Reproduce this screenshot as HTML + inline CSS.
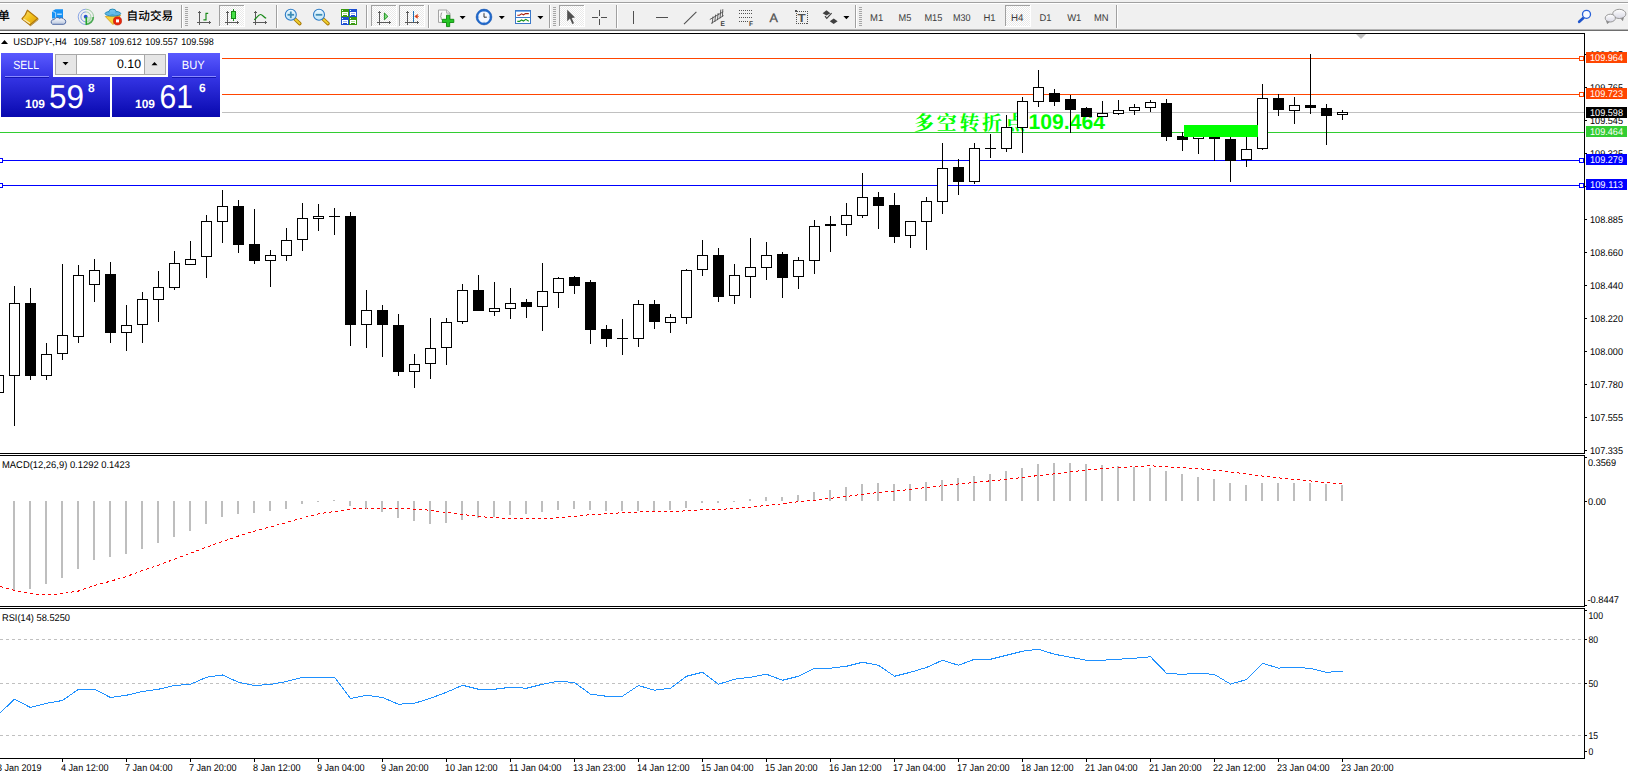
<!DOCTYPE html>
<html lang="zh"><head><meta charset="utf-8"><title>USDJPY-,H4</title>
<style>
html,body{margin:0;padding:0;background:#fff}
body{width:1628px;height:777px;overflow:hidden}
svg{display:block;position:absolute;left:0;top:0}
text{font-family:"Liberation Sans","Noto Sans CJK SC",sans-serif;white-space:pre;text-rendering:geometricPrecision}
.c{shape-rendering:crispEdges}
</style></head><body>
<svg width="1628" height="777" viewBox="0 0 1628 777">
<g class="c">
<rect x="0" y="0" width="1628" height="777" fill="#fff" />
<rect x="0" y="33" width="1585" height="1" fill="#000" />
<rect x="0" y="453" width="1585" height="1" fill="#000" />
<rect x="0" y="455" width="1585" height="1" fill="#000" />
<rect x="0" y="606" width="1585" height="1" fill="#000" />
<rect x="0" y="608" width="1585" height="1" fill="#000" />
<rect x="0" y="758" width="1585" height="1" fill="#000" />
<rect x="1584" y="33" width="1" height="421" fill="#000" />
<rect x="1584" y="455" width="1" height="152" fill="#000" />
<rect x="1584" y="608" width="1" height="151" fill="#000" />
<polygon points="1356,34 1366,34 1361,39" fill="#c0c0c0" shape-rendering="auto"/>
</g>
<g class="c">
<rect x="1585" y="54" width="2" height="1" fill="#000" />
<rect x="1585" y="87" width="2" height="1" fill="#000" />
<rect x="1585" y="120" width="2" height="1" fill="#000" />
<rect x="1585" y="153" width="2" height="1" fill="#000" />
<rect x="1585" y="186" width="2" height="1" fill="#000" />
<rect x="1585" y="219" width="2" height="1" fill="#000" />
<rect x="1585" y="252" width="2" height="1" fill="#000" />
<rect x="1585" y="285" width="2" height="1" fill="#000" />
<rect x="1585" y="318" width="2" height="1" fill="#000" />
<rect x="1585" y="351" width="2" height="1" fill="#000" />
<rect x="1585" y="384" width="2" height="1" fill="#000" />
<rect x="1585" y="417" width="2" height="1" fill="#000" />
<rect x="1585" y="450" width="2" height="1" fill="#000" />
<rect x="1585" y="457" width="2" height="1" fill="#000" />
<rect x="1585" y="501" width="2" height="1" fill="#000" />
<rect x="1585" y="605" width="2" height="1" fill="#000" />
<rect x="1585" y="610" width="2" height="1" fill="#000" />
<rect x="1585" y="639" width="2" height="1" fill="#000" />
<rect x="1585" y="683" width="2" height="1" fill="#000" />
<rect x="1585" y="735" width="2" height="1" fill="#000" />
<rect x="1585" y="751" width="2" height="1" fill="#000" />
</g>
<text x="1590" y="58" font-size="9.8" fill="#000" textLength="33" lengthAdjust="spacingAndGlyphs" >109.985</text>
<text x="1590" y="91" font-size="9.8" fill="#000" textLength="33" lengthAdjust="spacingAndGlyphs" >109.765</text>
<text x="1590" y="124" font-size="9.8" fill="#000" textLength="33" lengthAdjust="spacingAndGlyphs" >109.545</text>
<text x="1590" y="157" font-size="9.8" fill="#000" textLength="33" lengthAdjust="spacingAndGlyphs" >109.325</text>
<text x="1590" y="190" font-size="9.8" fill="#000" textLength="33" lengthAdjust="spacingAndGlyphs" >109.105</text>
<text x="1590" y="223" font-size="9.8" fill="#000" textLength="33" lengthAdjust="spacingAndGlyphs" >108.885</text>
<text x="1590" y="256" font-size="9.8" fill="#000" textLength="33" lengthAdjust="spacingAndGlyphs" >108.660</text>
<text x="1590" y="289" font-size="9.8" fill="#000" textLength="33" lengthAdjust="spacingAndGlyphs" >108.440</text>
<text x="1590" y="322" font-size="9.8" fill="#000" textLength="33" lengthAdjust="spacingAndGlyphs" >108.220</text>
<text x="1590" y="355" font-size="9.8" fill="#000" textLength="33" lengthAdjust="spacingAndGlyphs" >108.000</text>
<text x="1590" y="388" font-size="9.8" fill="#000" textLength="33" lengthAdjust="spacingAndGlyphs" >107.780</text>
<text x="1590" y="421" font-size="9.8" fill="#000" textLength="33" lengthAdjust="spacingAndGlyphs" >107.555</text>
<text x="1590" y="454" font-size="9.8" fill="#000" textLength="33" lengthAdjust="spacingAndGlyphs" >107.335</text>
<text x="1588" y="466" font-size="9.8" fill="#000" textLength="28" lengthAdjust="spacingAndGlyphs" >0.3569</text>
<text x="1588" y="505" font-size="9.8" fill="#000" textLength="18" lengthAdjust="spacingAndGlyphs" >0.00</text>
<text x="1587.5" y="603" font-size="9.8" fill="#000" textLength="31.5" lengthAdjust="spacingAndGlyphs" >-0.8447</text>
<text x="1588.5" y="619" font-size="9.8" fill="#000" textLength="14.5" lengthAdjust="spacingAndGlyphs" >100</text>
<text x="1588.5" y="643" font-size="9.8" fill="#000" textLength="9.6" lengthAdjust="spacingAndGlyphs" >80</text>
<text x="1588.5" y="687" font-size="9.8" fill="#000" textLength="9.6" lengthAdjust="spacingAndGlyphs" >50</text>
<text x="1588.5" y="739" font-size="9.8" fill="#000" textLength="9.6" lengthAdjust="spacingAndGlyphs" >15</text>
<text x="1588.5" y="755" font-size="9.8" fill="#000" textLength="4.8" lengthAdjust="spacingAndGlyphs" >0</text>
<g class="c">
<rect x="0" y="112" width="1584" height="1" fill="#c0c0c0" />
<rect x="0" y="58" width="1584" height="1" fill="#ff4500" />
<rect x="0" y="94" width="1584" height="1" fill="#ff4500" />
<rect x="0" y="132" width="1584" height="1" fill="#32cd32" />
<rect x="0" y="160" width="1584" height="1" fill="#0000ff" />
<rect x="0" y="185" width="1584" height="1" fill="#0000ff" />
<rect x="1579" y="56" width="5" height="5" fill="#ff4500" />
<rect x="1580" y="57" width="3" height="3" fill="#fff" />
<rect x="1579" y="92" width="5" height="5" fill="#ff4500" />
<rect x="1580" y="93" width="3" height="3" fill="#fff" />
<rect x="1579" y="158" width="5" height="5" fill="#0000ff" />
<rect x="1580" y="159" width="3" height="3" fill="#fff" />
<rect x="1579" y="183" width="5" height="5" fill="#0000ff" />
<rect x="1580" y="184" width="3" height="3" fill="#fff" />
<rect x="-2" y="158" width="5" height="5" fill="#0000ff" />
<rect x="-1" y="159" width="3" height="3" fill="#fff" />
<rect x="-2" y="183" width="5" height="5" fill="#0000ff" />
<rect x="-1" y="184" width="3" height="3" fill="#fff" />
</g>
<text x="914" y="129.5" fill="#00ff00" font-weight="700" font-size="20" style='font-family:"Noto Serif CJK SC","Liberation Serif",serif;letter-spacing:2.7px'>多空转折点</text>
<text x="1028.5" y="129" fill="#00ff00" font-weight="bold" font-size="21.2" style='font-family:"Liberation Sans",sans-serif' textLength="76.5" lengthAdjust="spacingAndGlyphs">109.464</text>
<g class="c">
<rect x="-7" y="375" width="11" height="18" fill="#000" />
<rect x="-6" y="376" width="9" height="16" fill="#fff" />
<rect x="14" y="286" width="1" height="140" fill="#000" />
<rect x="9" y="303" width="11" height="73" fill="#000" />
<rect x="10" y="304" width="9" height="71" fill="#fff" />
<rect x="30" y="288" width="1" height="92" fill="#000" />
<rect x="25" y="303" width="11" height="73" fill="#000" />
<rect x="46" y="343" width="1" height="37" fill="#000" />
<rect x="41" y="354" width="11" height="22" fill="#000" />
<rect x="42" y="355" width="9" height="20" fill="#fff" />
<rect x="62" y="264" width="1" height="96" fill="#000" />
<rect x="57" y="335" width="11" height="19" fill="#000" />
<rect x="58" y="336" width="9" height="17" fill="#fff" />
<rect x="78" y="265" width="1" height="78" fill="#000" />
<rect x="73" y="275" width="11" height="62" fill="#000" />
<rect x="74" y="276" width="9" height="60" fill="#fff" />
<rect x="94" y="259" width="1" height="43" fill="#000" />
<rect x="89" y="270" width="11" height="15" fill="#000" />
<rect x="90" y="271" width="9" height="13" fill="#fff" />
<rect x="110" y="262" width="1" height="81" fill="#000" />
<rect x="105" y="274" width="11" height="59" fill="#000" />
<rect x="126" y="305" width="1" height="46" fill="#000" />
<rect x="121" y="325" width="11" height="8" fill="#000" />
<rect x="122" y="326" width="9" height="6" fill="#fff" />
<rect x="142" y="292" width="1" height="51" fill="#000" />
<rect x="137" y="299" width="11" height="26" fill="#000" />
<rect x="138" y="300" width="9" height="24" fill="#fff" />
<rect x="158" y="271" width="1" height="51" fill="#000" />
<rect x="153" y="287" width="11" height="13" fill="#000" />
<rect x="154" y="288" width="9" height="11" fill="#fff" />
<rect x="174" y="251" width="1" height="39" fill="#000" />
<rect x="169" y="263" width="11" height="25" fill="#000" />
<rect x="170" y="264" width="9" height="23" fill="#fff" />
<rect x="190" y="241" width="1" height="24" fill="#000" />
<rect x="185" y="259" width="11" height="6" fill="#000" />
<rect x="186" y="260" width="9" height="4" fill="#fff" />
<rect x="206" y="215" width="1" height="63" fill="#000" />
<rect x="201" y="221" width="11" height="36" fill="#000" />
<rect x="202" y="222" width="9" height="34" fill="#fff" />
<rect x="222" y="190" width="1" height="53" fill="#000" />
<rect x="217" y="206" width="11" height="16" fill="#000" />
<rect x="218" y="207" width="9" height="14" fill="#fff" />
<rect x="238" y="200" width="1" height="53" fill="#000" />
<rect x="233" y="206" width="11" height="39" fill="#000" />
<rect x="254" y="209" width="1" height="55" fill="#000" />
<rect x="249" y="244" width="11" height="17" fill="#000" />
<rect x="270" y="250" width="1" height="37" fill="#000" />
<rect x="265" y="255" width="11" height="6" fill="#000" />
<rect x="266" y="256" width="9" height="4" fill="#fff" />
<rect x="286" y="228" width="1" height="33" fill="#000" />
<rect x="281" y="240" width="11" height="16" fill="#000" />
<rect x="282" y="241" width="9" height="14" fill="#fff" />
<rect x="302" y="203" width="1" height="48" fill="#000" />
<rect x="297" y="218" width="11" height="22" fill="#000" />
<rect x="298" y="219" width="9" height="20" fill="#fff" />
<rect x="318" y="204" width="1" height="27" fill="#000" />
<rect x="313" y="216" width="11" height="3" fill="#000" />
<rect x="314" y="217" width="9" height="1" fill="#fff" />
<rect x="334" y="208" width="1" height="27" fill="#000" />
<rect x="329" y="216" width="11" height="1" fill="#000" />
<rect x="350" y="212" width="1" height="134" fill="#000" />
<rect x="345" y="216" width="11" height="109" fill="#000" />
<rect x="366" y="290" width="1" height="58" fill="#000" />
<rect x="361" y="310" width="11" height="15" fill="#000" />
<rect x="362" y="311" width="9" height="13" fill="#fff" />
<rect x="382" y="305" width="1" height="52" fill="#000" />
<rect x="377" y="310" width="11" height="15" fill="#000" />
<rect x="398" y="314" width="1" height="62" fill="#000" />
<rect x="393" y="325" width="11" height="47" fill="#000" />
<rect x="414" y="354" width="1" height="34" fill="#000" />
<rect x="409" y="364" width="11" height="8" fill="#000" />
<rect x="410" y="365" width="9" height="6" fill="#fff" />
<rect x="430" y="318" width="1" height="61" fill="#000" />
<rect x="425" y="348" width="11" height="16" fill="#000" />
<rect x="426" y="349" width="9" height="14" fill="#fff" />
<rect x="446" y="318" width="1" height="47" fill="#000" />
<rect x="441" y="322" width="11" height="26" fill="#000" />
<rect x="442" y="323" width="9" height="24" fill="#fff" />
<rect x="462" y="284" width="1" height="40" fill="#000" />
<rect x="457" y="290" width="11" height="32" fill="#000" />
<rect x="458" y="291" width="9" height="30" fill="#fff" />
<rect x="478" y="275" width="1" height="36" fill="#000" />
<rect x="473" y="290" width="11" height="21" fill="#000" />
<rect x="494" y="282" width="1" height="34" fill="#000" />
<rect x="489" y="308" width="11" height="4" fill="#000" />
<rect x="490" y="309" width="9" height="2" fill="#fff" />
<rect x="510" y="288" width="1" height="31" fill="#000" />
<rect x="505" y="303" width="11" height="6" fill="#000" />
<rect x="506" y="304" width="9" height="4" fill="#fff" />
<rect x="526" y="299" width="1" height="19" fill="#000" />
<rect x="521" y="302" width="11" height="5" fill="#000" />
<rect x="542" y="263" width="1" height="68" fill="#000" />
<rect x="537" y="291" width="11" height="16" fill="#000" />
<rect x="538" y="292" width="9" height="14" fill="#fff" />
<rect x="558" y="277" width="1" height="31" fill="#000" />
<rect x="553" y="278" width="11" height="15" fill="#000" />
<rect x="554" y="279" width="9" height="13" fill="#fff" />
<rect x="574" y="276" width="1" height="18" fill="#000" />
<rect x="569" y="277" width="11" height="9" fill="#000" />
<rect x="590" y="280" width="1" height="64" fill="#000" />
<rect x="585" y="282" width="11" height="48" fill="#000" />
<rect x="606" y="325" width="1" height="22" fill="#000" />
<rect x="601" y="329" width="11" height="10" fill="#000" />
<rect x="622" y="319" width="1" height="36" fill="#000" />
<rect x="617" y="338" width="11" height="1" fill="#000" />
<rect x="638" y="300" width="1" height="47" fill="#000" />
<rect x="633" y="304" width="11" height="35" fill="#000" />
<rect x="634" y="305" width="9" height="33" fill="#fff" />
<rect x="654" y="300" width="1" height="29" fill="#000" />
<rect x="649" y="304" width="11" height="18" fill="#000" />
<rect x="670" y="314" width="1" height="19" fill="#000" />
<rect x="665" y="317" width="11" height="6" fill="#000" />
<rect x="666" y="318" width="9" height="4" fill="#fff" />
<rect x="686" y="269" width="1" height="55" fill="#000" />
<rect x="681" y="270" width="11" height="48" fill="#000" />
<rect x="682" y="271" width="9" height="46" fill="#fff" />
<rect x="702" y="240" width="1" height="36" fill="#000" />
<rect x="697" y="255" width="11" height="15" fill="#000" />
<rect x="698" y="256" width="9" height="13" fill="#fff" />
<rect x="718" y="248" width="1" height="54" fill="#000" />
<rect x="713" y="255" width="11" height="42" fill="#000" />
<rect x="734" y="264" width="1" height="40" fill="#000" />
<rect x="729" y="275" width="11" height="21" fill="#000" />
<rect x="730" y="276" width="9" height="19" fill="#fff" />
<rect x="750" y="238" width="1" height="60" fill="#000" />
<rect x="745" y="267" width="11" height="10" fill="#000" />
<rect x="746" y="268" width="9" height="8" fill="#fff" />
<rect x="766" y="242" width="1" height="38" fill="#000" />
<rect x="761" y="255" width="11" height="13" fill="#000" />
<rect x="762" y="256" width="9" height="11" fill="#fff" />
<rect x="782" y="252" width="1" height="46" fill="#000" />
<rect x="777" y="254" width="11" height="24" fill="#000" />
<rect x="798" y="257" width="1" height="32" fill="#000" />
<rect x="793" y="260" width="11" height="17" fill="#000" />
<rect x="794" y="261" width="9" height="15" fill="#fff" />
<rect x="814" y="220" width="1" height="54" fill="#000" />
<rect x="809" y="226" width="11" height="35" fill="#000" />
<rect x="810" y="227" width="9" height="33" fill="#fff" />
<rect x="830" y="216" width="1" height="36" fill="#000" />
<rect x="825" y="224" width="11" height="2" fill="#000" />
<rect x="846" y="203" width="1" height="33" fill="#000" />
<rect x="841" y="215" width="11" height="10" fill="#000" />
<rect x="842" y="216" width="9" height="8" fill="#fff" />
<rect x="862" y="173" width="1" height="45" fill="#000" />
<rect x="857" y="197" width="11" height="19" fill="#000" />
<rect x="858" y="198" width="9" height="17" fill="#fff" />
<rect x="878" y="192" width="1" height="37" fill="#000" />
<rect x="873" y="197" width="11" height="9" fill="#000" />
<rect x="894" y="193" width="1" height="50" fill="#000" />
<rect x="889" y="205" width="11" height="32" fill="#000" />
<rect x="910" y="221" width="1" height="27" fill="#000" />
<rect x="905" y="221" width="11" height="15" fill="#000" />
<rect x="906" y="222" width="9" height="13" fill="#fff" />
<rect x="926" y="197" width="1" height="53" fill="#000" />
<rect x="921" y="201" width="11" height="21" fill="#000" />
<rect x="922" y="202" width="9" height="19" fill="#fff" />
<rect x="942" y="143" width="1" height="71" fill="#000" />
<rect x="937" y="168" width="11" height="34" fill="#000" />
<rect x="938" y="169" width="9" height="32" fill="#fff" />
<rect x="958" y="159" width="1" height="36" fill="#000" />
<rect x="953" y="167" width="11" height="15" fill="#000" />
<rect x="974" y="143" width="1" height="41" fill="#000" />
<rect x="969" y="148" width="11" height="34" fill="#000" />
<rect x="970" y="149" width="9" height="32" fill="#fff" />
<rect x="990" y="134" width="1" height="24" fill="#000" />
<rect x="985" y="148" width="11" height="1" fill="#000" />
<rect x="1006" y="115" width="1" height="37" fill="#000" />
<rect x="1001" y="127" width="11" height="22" fill="#000" />
<rect x="1002" y="128" width="9" height="20" fill="#fff" />
<rect x="1022" y="97" width="1" height="56" fill="#000" />
<rect x="1017" y="101" width="11" height="27" fill="#000" />
<rect x="1018" y="102" width="9" height="25" fill="#fff" />
<rect x="1038" y="70" width="1" height="37" fill="#000" />
<rect x="1033" y="87" width="11" height="15" fill="#000" />
<rect x="1034" y="88" width="9" height="13" fill="#fff" />
<rect x="1054" y="89" width="1" height="17" fill="#000" />
<rect x="1049" y="93" width="11" height="9" fill="#000" />
<rect x="1070" y="95" width="1" height="38" fill="#000" />
<rect x="1065" y="99" width="11" height="11" fill="#000" />
<rect x="1086" y="107" width="1" height="10" fill="#000" />
<rect x="1081" y="108" width="11" height="9" fill="#000" />
<rect x="1102" y="101" width="1" height="16" fill="#000" />
<rect x="1097" y="113" width="11" height="4" fill="#000" />
<rect x="1098" y="114" width="9" height="2" fill="#fff" />
<rect x="1118" y="100" width="1" height="15" fill="#000" />
<rect x="1113" y="110" width="11" height="4" fill="#000" />
<rect x="1114" y="111" width="9" height="2" fill="#fff" />
<rect x="1134" y="104" width="1" height="11" fill="#000" />
<rect x="1129" y="107" width="11" height="4" fill="#000" />
<rect x="1130" y="108" width="9" height="2" fill="#fff" />
<rect x="1150" y="100" width="1" height="12" fill="#000" />
<rect x="1145" y="102" width="11" height="6" fill="#000" />
<rect x="1146" y="103" width="9" height="4" fill="#fff" />
<rect x="1166" y="99" width="1" height="42" fill="#000" />
<rect x="1161" y="103" width="11" height="34" fill="#000" />
<rect x="1182" y="132" width="1" height="19" fill="#000" />
<rect x="1177" y="136" width="11" height="4" fill="#000" />
<rect x="1198" y="136" width="1" height="18" fill="#000" />
<rect x="1193" y="136" width="11" height="3" fill="#000" />
<rect x="1194" y="137" width="9" height="1" fill="#fff" />
<rect x="1214" y="136" width="1" height="25" fill="#000" />
<rect x="1209" y="136" width="11" height="3" fill="#000" />
<rect x="1230" y="137" width="1" height="45" fill="#000" />
<rect x="1225" y="139" width="11" height="22" fill="#000" />
<rect x="1246" y="137" width="1" height="30" fill="#000" />
<rect x="1241" y="149" width="11" height="11" fill="#000" />
<rect x="1242" y="150" width="9" height="9" fill="#fff" />
<rect x="1262" y="84" width="1" height="66" fill="#000" />
<rect x="1257" y="98" width="11" height="51" fill="#000" />
<rect x="1258" y="99" width="9" height="49" fill="#fff" />
<rect x="1278" y="94" width="1" height="22" fill="#000" />
<rect x="1273" y="98" width="11" height="12" fill="#000" />
<rect x="1294" y="97" width="1" height="27" fill="#000" />
<rect x="1289" y="105" width="11" height="6" fill="#000" />
<rect x="1290" y="106" width="9" height="4" fill="#fff" />
<rect x="1310" y="54" width="1" height="60" fill="#000" />
<rect x="1305" y="105" width="11" height="3" fill="#000" />
<rect x="1326" y="104" width="1" height="41" fill="#000" />
<rect x="1321" y="108" width="11" height="8" fill="#000" />
<rect x="1342" y="110" width="1" height="10" fill="#000" />
<rect x="1337" y="112" width="11" height="3" fill="#000" />
<rect x="1338" y="113" width="9" height="1" fill="#fff" />
<rect x="1184" y="125" width="74" height="12" fill="#00ff00" />
</g>
<g class="c">
<rect x="1586" y="52" width="41" height="11" fill="#ff4500" />
</g>
<text x="1590" y="61" font-size="9.8" fill="#fff" textLength="33" lengthAdjust="spacingAndGlyphs" >109.964</text>
<g class="c">
<rect x="1586" y="88" width="41" height="11" fill="#ff4500" />
</g>
<text x="1590" y="97" font-size="9.8" fill="#fff" textLength="33" lengthAdjust="spacingAndGlyphs" >109.723</text>
<g class="c">
<rect x="1586" y="126" width="41" height="11" fill="#32cd32" />
</g>
<text x="1590" y="135" font-size="9.8" fill="#fff" textLength="33" lengthAdjust="spacingAndGlyphs" >109.464</text>
<g class="c">
<rect x="1586" y="154" width="41" height="11" fill="#0000ff" />
</g>
<text x="1590" y="163" font-size="9.8" fill="#fff" textLength="33" lengthAdjust="spacingAndGlyphs" >109.279</text>
<g class="c">
<rect x="1586" y="179" width="41" height="11" fill="#0000ff" />
</g>
<text x="1590" y="188" font-size="9.8" fill="#fff" textLength="33" lengthAdjust="spacingAndGlyphs" >109.113</text>
<g class="c">
<rect x="1586" y="107" width="41" height="11" fill="#000" />
</g>
<text x="1590" y="116" font-size="9.8" fill="#fff" textLength="33" lengthAdjust="spacingAndGlyphs" >109.598</text>
<g class="c">
<rect x="13" y="501" width="2" height="89" fill="#bebebe" />
<rect x="29" y="501" width="2" height="88" fill="#bebebe" />
<rect x="45" y="501" width="2" height="83" fill="#bebebe" />
<rect x="61" y="501" width="2" height="77" fill="#bebebe" />
<rect x="77" y="501" width="2" height="68" fill="#bebebe" />
<rect x="93" y="501" width="2" height="59" fill="#bebebe" />
<rect x="109" y="501" width="2" height="56" fill="#bebebe" />
<rect x="125" y="501" width="2" height="53" fill="#bebebe" />
<rect x="141" y="501" width="2" height="48" fill="#bebebe" />
<rect x="157" y="501" width="2" height="42" fill="#bebebe" />
<rect x="173" y="501" width="2" height="36" fill="#bebebe" />
<rect x="189" y="501" width="2" height="30" fill="#bebebe" />
<rect x="205" y="501" width="2" height="23" fill="#bebebe" />
<rect x="221" y="501" width="2" height="16" fill="#bebebe" />
<rect x="237" y="501" width="2" height="13" fill="#bebebe" />
<rect x="253" y="501" width="2" height="12" fill="#bebebe" />
<rect x="269" y="501" width="2" height="10" fill="#bebebe" />
<rect x="285" y="501" width="2" height="8" fill="#bebebe" />
<rect x="301" y="501" width="2" height="3" fill="#bebebe" />
<rect x="317" y="501" width="2" height="1" fill="#bebebe" />
<rect x="333" y="500" width="2" height="1" fill="#bebebe" />
<rect x="349" y="501" width="2" height="5" fill="#bebebe" />
<rect x="365" y="501" width="2" height="8" fill="#bebebe" />
<rect x="381" y="501" width="2" height="11" fill="#bebebe" />
<rect x="397" y="501" width="2" height="17" fill="#bebebe" />
<rect x="413" y="501" width="2" height="20" fill="#bebebe" />
<rect x="429" y="501" width="2" height="23" fill="#bebebe" />
<rect x="445" y="501" width="2" height="22" fill="#bebebe" />
<rect x="461" y="501" width="2" height="19" fill="#bebebe" />
<rect x="477" y="501" width="2" height="17" fill="#bebebe" />
<rect x="493" y="501" width="2" height="16" fill="#bebebe" />
<rect x="509" y="501" width="2" height="14" fill="#bebebe" />
<rect x="525" y="501" width="2" height="13" fill="#bebebe" />
<rect x="541" y="501" width="2" height="11" fill="#bebebe" />
<rect x="557" y="501" width="2" height="9" fill="#bebebe" />
<rect x="573" y="501" width="2" height="8" fill="#bebebe" />
<rect x="589" y="501" width="2" height="9" fill="#bebebe" />
<rect x="605" y="501" width="2" height="10" fill="#bebebe" />
<rect x="621" y="501" width="2" height="10" fill="#bebebe" />
<rect x="637" y="501" width="2" height="10" fill="#bebebe" />
<rect x="653" y="501" width="2" height="10" fill="#bebebe" />
<rect x="669" y="501" width="2" height="9" fill="#bebebe" />
<rect x="685" y="501" width="2" height="7" fill="#bebebe" />
<rect x="701" y="501" width="2" height="2" fill="#bebebe" />
<rect x="717" y="501" width="2" height="2" fill="#bebebe" />
<rect x="733" y="501" width="2" height="1" fill="#bebebe" />
<rect x="749" y="499" width="2" height="2" fill="#bebebe" />
<rect x="765" y="497" width="2" height="4" fill="#bebebe" />
<rect x="781" y="497" width="2" height="4" fill="#bebebe" />
<rect x="797" y="495" width="2" height="6" fill="#bebebe" />
<rect x="813" y="492" width="2" height="9" fill="#bebebe" />
<rect x="829" y="490" width="2" height="11" fill="#bebebe" />
<rect x="845" y="487" width="2" height="14" fill="#bebebe" />
<rect x="861" y="484" width="2" height="17" fill="#bebebe" />
<rect x="877" y="483" width="2" height="18" fill="#bebebe" />
<rect x="893" y="484" width="2" height="17" fill="#bebebe" />
<rect x="909" y="484" width="2" height="17" fill="#bebebe" />
<rect x="925" y="482" width="2" height="19" fill="#bebebe" />
<rect x="941" y="480" width="2" height="21" fill="#bebebe" />
<rect x="957" y="478" width="2" height="23" fill="#bebebe" />
<rect x="973" y="476" width="2" height="25" fill="#bebebe" />
<rect x="989" y="474" width="2" height="27" fill="#bebebe" />
<rect x="1005" y="471" width="2" height="30" fill="#bebebe" />
<rect x="1021" y="468" width="2" height="33" fill="#bebebe" />
<rect x="1037" y="464" width="2" height="37" fill="#bebebe" />
<rect x="1053" y="463" width="2" height="38" fill="#bebebe" />
<rect x="1069" y="463" width="2" height="38" fill="#bebebe" />
<rect x="1085" y="464" width="2" height="37" fill="#bebebe" />
<rect x="1101" y="465" width="2" height="36" fill="#bebebe" />
<rect x="1117" y="466" width="2" height="35" fill="#bebebe" />
<rect x="1133" y="467" width="2" height="34" fill="#bebebe" />
<rect x="1149" y="468" width="2" height="33" fill="#bebebe" />
<rect x="1165" y="471" width="2" height="30" fill="#bebebe" />
<rect x="1181" y="474" width="2" height="27" fill="#bebebe" />
<rect x="1197" y="477" width="2" height="24" fill="#bebebe" />
<rect x="1213" y="479" width="2" height="22" fill="#bebebe" />
<rect x="1229" y="483" width="2" height="18" fill="#bebebe" />
<rect x="1245" y="485" width="2" height="16" fill="#bebebe" />
<rect x="1261" y="483" width="2" height="18" fill="#bebebe" />
<rect x="1277" y="483" width="2" height="18" fill="#bebebe" />
<rect x="1293" y="483" width="2" height="18" fill="#bebebe" />
<rect x="1309" y="483" width="2" height="18" fill="#bebebe" />
<rect x="1325" y="484" width="2" height="17" fill="#bebebe" />
<rect x="1341" y="485" width="2" height="16" fill="#bebebe" />
</g>
<polyline points="0.5,586.5 14.5,590.5 30.5,593.5 46.5,595.0 62.5,593.5 78.5,591.0 94.5,585.5 110.5,581.2 126.5,576.5 142.5,570.5 158.5,565.2 174.5,559.1 190.5,553.2 206.5,547.1 222.5,541.5 238.5,536.0 254.5,531.1 270.5,526.9 286.5,522.5 302.5,517.8 318.5,513.9 334.5,511.5 350.5,509.0 366.5,508.0 382.5,508.0 398.5,508.3 414.5,509.1 430.5,510.3 446.5,512.5 462.5,514.5 478.5,516.5 494.5,517.7 510.5,518.5 526.5,518.5 542.5,518.5 558.5,517.9 574.5,516.2 590.5,514.7 606.5,513.7 622.5,512.7 638.5,512.0 654.5,511.8 670.5,511.8 686.5,510.8 702.5,509.8 718.5,509.5 734.5,508.5 750.5,507.1 766.5,505.5 782.5,503.7 798.5,501.7 814.5,500.2 830.5,498.3 846.5,496.5 862.5,494.3 878.5,492.5 894.5,491.1 910.5,489.5 926.5,487.5 942.5,485.7 958.5,484.0 974.5,482.5 990.5,480.8 1006.5,479.5 1022.5,477.5 1038.5,475.5 1054.5,473.9 1070.5,472.0 1086.5,470.0 1102.5,468.8 1118.5,467.5 1134.5,466.8 1150.5,465.8 1166.5,466.7 1182.5,467.8 1198.5,468.7 1214.5,470.2 1230.5,471.9 1246.5,474.0 1262.5,476.1 1278.5,477.8 1294.5,479.5 1310.5,481.0 1326.5,482.5 1342.5,483.7" fill="none" stroke="#ff0000" stroke-width="1" stroke-dasharray="3 3" shape-rendering="crispEdges"/>
<text x="2" y="468" font-size="9.8" fill="#000" textLength="128" lengthAdjust="spacingAndGlyphs" >MACD(12,26,9) 0.1292 0.1423</text>
<line x1="0" y1="639.5" x2="1584" y2="639.5" stroke="#c0c0c0" stroke-width="1" stroke-dasharray="3 3" class="c"/>
<line x1="0" y1="683.5" x2="1584" y2="683.5" stroke="#c0c0c0" stroke-width="1" stroke-dasharray="3 3" class="c"/>
<line x1="0" y1="735.5" x2="1584" y2="735.5" stroke="#c0c0c0" stroke-width="1" stroke-dasharray="3 3" class="c"/>
<polyline points="0.5,712.5 14.5,699.25 30.5,707.5 46.5,703.25 62.5,700.5 78.5,689.25 94.5,689.25 110.5,697.5 126.5,695.25 142.5,691.5 158.5,689.25 174.5,685.5 190.5,684.25 206.5,677.25 222.5,675 238.5,682.25 254.5,685.5 270.5,684.5 286.5,681.5 302.5,677.25 318.5,677.25 334.5,677.25 350.5,698.5 366.5,695.25 382.5,697.5 398.5,704.25 414.5,703.25 430.5,698.25 446.5,692.25 462.5,685.25 478.5,689.25 494.5,689.25 510.5,687.25 526.5,688.25 542.5,684.25 558.5,681.25 574.5,682.5 590.5,694.25 606.5,696.25 622.5,696.25 638.5,685.5 654.5,690.25 670.5,688.25 686.5,676.25 702.5,672.25 718.5,684.25 734.5,679.25 750.5,677.25 766.5,674.25 782.5,680.25 798.5,676.25 814.5,668.25 830.5,668.25 846.5,666.25 862.5,662.25 878.5,665.25 894.5,676.25 910.5,672.25 926.5,667.5 942.5,660.25 958.5,665.25 974.5,659.25 990.5,659.25 1006.5,655.25 1022.5,651.25 1038.5,649.25 1054.5,654.25 1070.5,657.25 1086.5,660.25 1102.5,660.25 1118.5,659.25 1134.5,658.25 1150.5,656.75 1166.5,673.25 1182.5,674.4 1198.5,673.1 1214.5,674.5 1230.5,684.1 1246.5,679.6 1262.5,663.3 1278.5,668.1 1294.5,667.2 1310.5,668.4 1326.5,672.3 1342.5,671.2" fill="none" stroke="#1e90ff" stroke-width="1" shape-rendering="crispEdges"/>
<text x="2" y="621" font-size="9.8" fill="#000" textLength="68" lengthAdjust="spacingAndGlyphs" >RSI(14) 58.5250</text>
<g class="c">
<rect x="62" y="758" width="1" height="4" fill="#000" />
<rect x="126" y="758" width="1" height="4" fill="#000" />
<rect x="190" y="758" width="1" height="4" fill="#000" />
<rect x="254" y="758" width="1" height="4" fill="#000" />
<rect x="318" y="758" width="1" height="4" fill="#000" />
<rect x="382" y="758" width="1" height="4" fill="#000" />
<rect x="446" y="758" width="1" height="4" fill="#000" />
<rect x="510" y="758" width="1" height="4" fill="#000" />
<rect x="574" y="758" width="1" height="4" fill="#000" />
<rect x="638" y="758" width="1" height="4" fill="#000" />
<rect x="702" y="758" width="1" height="4" fill="#000" />
<rect x="766" y="758" width="1" height="4" fill="#000" />
<rect x="830" y="758" width="1" height="4" fill="#000" />
<rect x="894" y="758" width="1" height="4" fill="#000" />
<rect x="958" y="758" width="1" height="4" fill="#000" />
<rect x="1022" y="758" width="1" height="4" fill="#000" />
<rect x="1086" y="758" width="1" height="4" fill="#000" />
<rect x="1150" y="758" width="1" height="4" fill="#000" />
<rect x="1214" y="758" width="1" height="4" fill="#000" />
<rect x="1278" y="758" width="1" height="4" fill="#000" />
<rect x="1342" y="758" width="1" height="4" fill="#000" />
</g>
<text x="-3" y="771" font-size="9.8" fill="#000" textLength="44.5" lengthAdjust="spacingAndGlyphs" >3 Jan 2019</text>
<text x="61" y="771" font-size="9.8" fill="#000" textLength="47.5" lengthAdjust="spacingAndGlyphs" >4 Jan 12:00</text>
<text x="125" y="771" font-size="9.8" fill="#000" textLength="47.5" lengthAdjust="spacingAndGlyphs" >7 Jan 04:00</text>
<text x="189" y="771" font-size="9.8" fill="#000" textLength="47.5" lengthAdjust="spacingAndGlyphs" >7 Jan 20:00</text>
<text x="253" y="771" font-size="9.8" fill="#000" textLength="47.5" lengthAdjust="spacingAndGlyphs" >8 Jan 12:00</text>
<text x="317" y="771" font-size="9.8" fill="#000" textLength="47.5" lengthAdjust="spacingAndGlyphs" >9 Jan 04:00</text>
<text x="381" y="771" font-size="9.8" fill="#000" textLength="47.5" lengthAdjust="spacingAndGlyphs" >9 Jan 20:00</text>
<text x="445" y="771" font-size="9.8" fill="#000" textLength="52.5" lengthAdjust="spacingAndGlyphs" >10 Jan 12:00</text>
<text x="509" y="771" font-size="9.8" fill="#000" textLength="52.5" lengthAdjust="spacingAndGlyphs" >11 Jan 04:00</text>
<text x="573" y="771" font-size="9.8" fill="#000" textLength="52.5" lengthAdjust="spacingAndGlyphs" >13 Jan 23:00</text>
<text x="637" y="771" font-size="9.8" fill="#000" textLength="52.5" lengthAdjust="spacingAndGlyphs" >14 Jan 12:00</text>
<text x="701" y="771" font-size="9.8" fill="#000" textLength="52.5" lengthAdjust="spacingAndGlyphs" >15 Jan 04:00</text>
<text x="765" y="771" font-size="9.8" fill="#000" textLength="52.5" lengthAdjust="spacingAndGlyphs" >15 Jan 20:00</text>
<text x="829" y="771" font-size="9.8" fill="#000" textLength="52.5" lengthAdjust="spacingAndGlyphs" >16 Jan 12:00</text>
<text x="893" y="771" font-size="9.8" fill="#000" textLength="52.5" lengthAdjust="spacingAndGlyphs" >17 Jan 04:00</text>
<text x="957" y="771" font-size="9.8" fill="#000" textLength="52.5" lengthAdjust="spacingAndGlyphs" >17 Jan 20:00</text>
<text x="1021" y="771" font-size="9.8" fill="#000" textLength="52.5" lengthAdjust="spacingAndGlyphs" >18 Jan 12:00</text>
<text x="1085" y="771" font-size="9.8" fill="#000" textLength="52.5" lengthAdjust="spacingAndGlyphs" >21 Jan 04:00</text>
<text x="1149" y="771" font-size="9.8" fill="#000" textLength="52.5" lengthAdjust="spacingAndGlyphs" >21 Jan 20:00</text>
<text x="1213" y="771" font-size="9.8" fill="#000" textLength="52.5" lengthAdjust="spacingAndGlyphs" >22 Jan 12:00</text>
<text x="1277" y="771" font-size="9.8" fill="#000" textLength="52.5" lengthAdjust="spacingAndGlyphs" >23 Jan 04:00</text>
<text x="1341" y="771" font-size="9.8" fill="#000" textLength="52.5" lengthAdjust="spacingAndGlyphs" >23 Jan 20:00</text>
<polygon points="1,44 8,44 4.5,40" fill="#000"/>
<text x="13.3" y="45" font-size="9.8" fill="#000" textLength="53.5" lengthAdjust="spacingAndGlyphs" >USDJPY-,H4</text>
<text x="73.5" y="45" font-size="9.8" fill="#000" textLength="32.5" lengthAdjust="spacingAndGlyphs" >109.587</text>
<text x="109.3" y="45" font-size="9.8" fill="#000" textLength="32.5" lengthAdjust="spacingAndGlyphs" >109.612</text>
<text x="145.3" y="45" font-size="9.8" fill="#000" textLength="32.5" lengthAdjust="spacingAndGlyphs" >109.557</text>
<text x="181.3" y="45" font-size="9.8" fill="#000" textLength="32.5" lengthAdjust="spacingAndGlyphs" >109.598</text>
<defs>
<linearGradient id="gb" x1="0" y1="0" x2="0" y2="1"><stop offset="0" stop-color="#5a5aff"/><stop offset="0.36" stop-color="#3636e6"/><stop offset="1" stop-color="#0808ae"/></linearGradient>
</defs>
<g class="c">
<rect x="0" y="52" width="222" height="66" fill="#fff" />
<path d="M1,53 H53 V77 H110 V117 H1 Z" fill="url(#gb)"/>
<path d="M168,53 H220 V117 H112 V77 H168 Z" fill="url(#gb)"/>
<rect x="5" y="76" width="44" height="1" fill="#8a8aff" />
<rect x="5" y="77" width="44" height="1" fill="#1414b4" />
<rect x="172" y="76" width="44" height="1" fill="#8a8aff" />
<rect x="172" y="77" width="44" height="1" fill="#1414b4" />
<rect x="55" y="54" width="111" height="21" fill="#a8a8a8" />
<rect x="56" y="55" width="109" height="19" fill="#fff" />
<rect x="56" y="55" width="20" height="19" fill="#e6e6e6" />
<rect x="76" y="55" width="1" height="19" fill="#a8a8a8" />
<rect x="145" y="55" width="20" height="19" fill="#e6e6e6" />
<rect x="144" y="55" width="1" height="19" fill="#a8a8a8" />
</g>
<polygon points="62.5,62 68.5,62 65.5,65.3" fill="#000"/>
<polygon points="151.5,65.3 157.5,65.3 154.5,62" fill="#000"/>
<text x="141" y="68.3" font-size="12.2" fill="#000" text-anchor="end" textLength="24" lengthAdjust="spacingAndGlyphs" >0.10</text>
<text x="13.3" y="69" font-size="12" fill="#fff" textLength="25.7" lengthAdjust="spacingAndGlyphs" >SELL</text>
<text x="181.8" y="69" font-size="12" fill="#fff" textLength="23" lengthAdjust="spacingAndGlyphs" >BUY</text>
<text x="25" y="107.6" font-size="12" fill="#fff" font-weight="bold" textLength="20" lengthAdjust="spacingAndGlyphs" >109</text>
<text x="135" y="107.6" font-size="12" fill="#fff" font-weight="bold" textLength="20" lengthAdjust="spacingAndGlyphs" >109</text>
<text x="49" y="108.3" font-size="33" fill="#fff" textLength="35" lengthAdjust="spacingAndGlyphs" >59</text>
<text x="159.5" y="108.3" font-size="33" fill="#fff" textLength="33.5" lengthAdjust="spacingAndGlyphs" >61</text>
<text x="88" y="91.8" font-size="12" fill="#fff" font-weight="bold" >8</text>
<text x="199" y="91.8" font-size="12" fill="#fff" font-weight="bold" >6</text>
<g class="c">
<rect x="0" y="0" width="1628" height="33" fill="#f0f0f0" />
<rect x="0" y="2" width="1628" height="1" fill="#a0a0a0" />
<rect x="0" y="3" width="1628" height="1" fill="#fff" />
<rect x="0" y="29" width="1628" height="1" fill="#b4b4b4" />
<rect x="0" y="30" width="1628" height="1" fill="#6e6e6e" />
<rect x="0" y="31" width="1628" height="2" fill="#fff" />
<rect x="0" y="33" width="1585" height="1" fill="#000" />
<rect x="1585" y="33" width="43" height="1" fill="#fff" />
</g>
<defs>
<pattern id="chk" width="2" height="2" patternUnits="userSpaceOnUse"><rect width="2" height="2" fill="#fff"/><rect width="1" height="1" fill="#e9e9e9"/><rect x="1" y="1" width="1" height="1" fill="#e9e9e9"/></pattern>
<linearGradient id="gold" x1="0" y1="0" x2="1" y2="1"><stop offset="0" stop-color="#ffe27a"/><stop offset="0.5" stop-color="#f2c21c"/><stop offset="1" stop-color="#d99a0a"/></linearGradient>
<linearGradient id="cloud" x1="0" y1="0" x2="0" y2="1"><stop offset="0" stop-color="#ffffff"/><stop offset="1" stop-color="#b9c6de"/></linearGradient>
<linearGradient id="lens" x1="0" y1="0" x2="0" y2="1"><stop offset="0" stop-color="#eaf8ff"/><stop offset="1" stop-color="#c4e6f6"/></linearGradient>
<linearGradient id="grn" x1="0" y1="0" x2="1" y2="0"><stop offset="0" stop-color="#7dff7d"/><stop offset="1" stop-color="#18c418"/></linearGradient>
<linearGradient id="bub" x1="0" y1="0" x2="0" y2="1"><stop offset="0" stop-color="#ffffff"/><stop offset="1" stop-color="#d8d8e4"/></linearGradient>
</defs>
<text x="10" y="20" font-size="12.2" fill="#000" text-anchor="end" font-weight="500" >新订单</text>
<g><polygon points="37.7,18.4 38.2,19.7 30.4,26 30,24.9" fill="#d9c27a" stroke="#9a6a08" stroke-width="0.6" stroke-linejoin="round"/><path d="M27.4,10.2 L37.7,18.4 L30,24.9 L22,18.8 Q25.8,15.2 27.4,10.2 Z" fill="url(#gold)" stroke="#b07508" stroke-width="1.2" stroke-linejoin="round"/><polyline points="23.4,19 30,23.4" fill="none" stroke="#f9e9a8" stroke-width="1.3"/></g>
<g><path d="M52,11.2 L55.5,9.2 H63 V18.5 H52 Z" fill="#1591f5"/><path d="M52,11.2 L55.6,12.6 V18.5" fill="none" stroke="#cfe9ff" stroke-width="0.8"/><rect x="57.2" y="13.6" width="4.6" height="1.2" fill="#d8eeff"/><path d="M52.6,24.3 H63.6 A2.6,2.6 0 0 0 63.8,19.2 A2.7,2.7 0 0 0 59.6,18.6 A3.2,3.2 0 0 0 54.2,19.6 A2.5,2.5 0 0 0 52.6,24.3 Z" fill="url(#cloud)" stroke="#3f5c9c" stroke-width="0.9"/></g>
<g fill="none" stroke-width="1"><path d="M85.9,16.9 L85.9,24.6 A7.7,7.7 0 0 0 93.6,16.9 Z" fill="#bfe3c2" stroke="none" opacity="0.8"/><path d="M85.9,24.6 A7.7,7.7 0 0 1 85.9,9.2" stroke="#8aa6e6"/><path d="M85.9,9.2 A7.7,7.7 0 0 1 93.6,16.9" stroke="#9cc9a0"/><path d="M93.3,16.9 A7.4,7.4 0 0 1 85.9,24.3" stroke="#4aa852" stroke-width="1.7"/><path d="M85.9,21.9 A5,5 0 0 1 85.9,11.9" stroke="#7f9de4"/><path d="M85.9,11.9 A5,5 0 0 1 85.9,21.9" stroke="#a6d3aa"/><circle cx="85.7" cy="16.7" r="1.9" fill="#2a55d0" stroke="none"/><rect x="85.5" y="17" width="1.5" height="7.8" fill="#25a52c" stroke="none"/></g>
<g><polygon points="105.3,16.5 120.6,15.4 113,24.6" fill="#f6d23c" stroke="#d09a10" stroke-width="0.8" stroke-linejoin="round"/><ellipse cx="112.9" cy="13.6" rx="7.8" ry="2.5" fill="#5fb6e6" stroke="#1c86b2" stroke-width="0.9"/><ellipse cx="112.5" cy="11.6" rx="3.6" ry="2.5" fill="#6ec1ee" stroke="#1c86b2" stroke-width="0.9"/><rect x="109.3" y="11.8" width="6.4" height="2.4" fill="#66bcea"/><circle cx="117.5" cy="20.9" r="4.1" fill="#e8260c" stroke="#b81c08" stroke-width="0.6"/><rect x="116" y="19.4" width="3" height="3" fill="#fff"/></g>
<text x="126.6" y="20.2" font-size="11.8" fill="#000" font-weight="500" textLength="46.6" lengthAdjust="spacingAndGlyphs" >自动交易</text>
<g class="c">
<rect x="181" y="5" width="1" height="23" fill="#a0a0a0" />
<rect x="182" y="5" width="1" height="23" fill="#fff" />
</g>
<g class="c">
<rect x="185" y="7" width="3" height="1" fill="#a6a6a6" />
<rect x="185" y="9" width="3" height="1" fill="#a6a6a6" />
<rect x="185" y="11" width="3" height="1" fill="#a6a6a6" />
<rect x="185" y="13" width="3" height="1" fill="#a6a6a6" />
<rect x="185" y="15" width="3" height="1" fill="#a6a6a6" />
<rect x="185" y="17" width="3" height="1" fill="#a6a6a6" />
<rect x="185" y="19" width="3" height="1" fill="#a6a6a6" />
<rect x="185" y="21" width="3" height="1" fill="#a6a6a6" />
<rect x="185" y="23" width="3" height="1" fill="#a6a6a6" />
<rect x="185" y="25" width="3" height="1" fill="#a6a6a6" />
</g>
<g class="c" fill="#5a5a5a">
<rect x="199" y="11" width="1" height="14"/><rect x="197" y="22" width="14" height="1"/>
<rect x="198" y="12" width="3" height="1"/><rect x="209" y="21" width="1" height="3"/>
</g>
<path d="M208.2,13.4 H206 V19.8 H203.4" fill="none" stroke="#178a17" stroke-width="1.15"/>
<g class="c">
<rect x="219" y="5" width="26" height="22" fill="url(#chk)" />
<rect x="219" y="5" width="26" height="1" fill="#a0a0a0" />
<rect x="219" y="5" width="1" height="22" fill="#a0a0a0" />
<rect x="244" y="5" width="1" height="22" fill="#fff" />
<rect x="219" y="26" width="26" height="1" fill="#fff" />
</g>
<g class="c" fill="#5a5a5a">
<rect x="227" y="11" width="1" height="14"/><rect x="225" y="22" width="14" height="1"/>
<rect x="226" y="12" width="3" height="1"/><rect x="237" y="21" width="1" height="3"/>
</g>
<g class="c"><rect x="233" y="9" width="1" height="12" fill="#178a17"/><rect x="231" y="11" width="5" height="8" fill="#178a17"/><rect x="232" y="12" width="3" height="6" fill="#46e046"/></g>
<g class="c" fill="#5a5a5a">
<rect x="255" y="11" width="1" height="14"/><rect x="253" y="22" width="14" height="1"/>
<rect x="254" y="12" width="3" height="1"/><rect x="265" y="21" width="1" height="3"/>
</g>
<path d="M254.2,19.8 C256.5,18.4 258.2,14.4 260.6,14.5 C262.6,14.6 263.8,17.4 266.2,18.2" fill="none" stroke="#178a17" stroke-width="1.2"/>
<g class="c">
<rect x="276" y="5" width="1" height="23" fill="#a0a0a0" />
<rect x="277" y="5" width="1" height="23" fill="#fff" />
</g>
<g><line x1="295.1" y1="19.2" x2="299.8" y2="23.6" stroke="#a87808" stroke-width="3.6" stroke-linecap="round"/><line x1="295.40000000000003" y1="19.5" x2="299.6" y2="23.4" stroke="#f0d030" stroke-width="1.9" stroke-linecap="round"/><circle cx="290.8" cy="14.8" r="5.5" fill="url(#lens)" stroke="#2b7bc6" stroke-width="1.1"/><rect x="287.5" y="13.9" width="6.6" height="1.8" fill="#3f8db6"/><rect x="289.90000000000003" y="11.5" width="1.8" height="6.6" fill="#3f8db6"/></g>
<g><line x1="323.3" y1="19.2" x2="328" y2="23.6" stroke="#a87808" stroke-width="3.6" stroke-linecap="round"/><line x1="323.6" y1="19.5" x2="327.8" y2="23.4" stroke="#f0d030" stroke-width="1.9" stroke-linecap="round"/><circle cx="319" cy="14.8" r="5.5" fill="url(#lens)" stroke="#2b7bc6" stroke-width="1.1"/><rect x="315.7" y="13.9" width="6.6" height="1.8" fill="#3f8db6"/></g>
<g class="c"><rect x="341" y="9" width="8" height="8" fill="#3a9a12"/><rect x="342" y="10" width="1" height="1" fill="#dfe"/><rect x="342" y="12" width="6" height="4" fill="#fff"/><rect x="343" y="13" width="4" height="1" fill="#a8dc90"/><rect x="343" y="15" width="4" height="1" fill="#3a9a12"/></g>
<g class="c"><rect x="349" y="9" width="8" height="8" fill="#1c4fd2"/><rect x="350" y="10" width="1" height="1" fill="#dfe"/><rect x="350" y="12" width="6" height="4" fill="#fff"/><rect x="351" y="13" width="4" height="1" fill="#9ab4f4"/><rect x="351" y="15" width="4" height="1" fill="#1c4fd2"/></g>
<g class="c"><rect x="341" y="17" width="8" height="8" fill="#1c4fd2"/><rect x="342" y="18" width="1" height="1" fill="#dfe"/><rect x="342" y="20" width="6" height="4" fill="#fff"/><rect x="343" y="21" width="4" height="1" fill="#9ab4f4"/><rect x="343" y="23" width="4" height="1" fill="#1c4fd2"/></g>
<g class="c"><rect x="349" y="17" width="8" height="8" fill="#3a9a12"/><rect x="350" y="18" width="1" height="1" fill="#dfe"/><rect x="350" y="20" width="6" height="4" fill="#fff"/><rect x="351" y="21" width="4" height="1" fill="#a8dc90"/><rect x="351" y="23" width="4" height="1" fill="#3a9a12"/></g>
<g class="c">
<rect x="366" y="5" width="1" height="23" fill="#a0a0a0" />
<rect x="367" y="5" width="1" height="23" fill="#fff" />
</g>
<g class="c">
<rect x="371" y="5" width="26" height="22" fill="url(#chk)" />
<rect x="371" y="5" width="26" height="1" fill="#a0a0a0" />
<rect x="371" y="5" width="1" height="22" fill="#a0a0a0" />
<rect x="396" y="5" width="1" height="22" fill="#fff" />
<rect x="371" y="26" width="26" height="1" fill="#fff" />
</g>
<g class="c" fill="#5a5a5a">
<rect x="379" y="11" width="1" height="14"/><rect x="377" y="22" width="14" height="1"/>
<rect x="378" y="12" width="3" height="1"/><rect x="389" y="21" width="1" height="3"/>
</g>
<polygon points="384.4,13 384.4,19.8 387.9,16.4" fill="#7be07b" stroke="#178a17" stroke-width="0.9"/>
<g class="c">
<rect x="399" y="5" width="26" height="22" fill="url(#chk)" />
<rect x="399" y="5" width="26" height="1" fill="#a0a0a0" />
<rect x="399" y="5" width="1" height="22" fill="#a0a0a0" />
<rect x="424" y="5" width="1" height="22" fill="#fff" />
<rect x="399" y="26" width="26" height="1" fill="#fff" />
</g>
<g class="c" fill="#5a5a5a">
<rect x="407" y="11" width="1" height="14"/><rect x="405" y="22" width="14" height="1"/>
<rect x="406" y="12" width="3" height="1"/><rect x="417" y="21" width="1" height="3"/>
</g>
<g class="c"><rect x="413" y="11" width="1" height="11" fill="#1c6fb4"/></g><path d="M414.8,16.4 L417.6,14.6 L416.9,16.4 L417.6,18.2 Z M416.8,16.4 H419" fill="#d83c10" stroke="#d83c10" stroke-width="0.7"/>
<g class="c">
<rect x="428" y="5" width="1" height="23" fill="#a0a0a0" />
<rect x="429" y="5" width="1" height="23" fill="#fff" />
</g>
<g><path d="M438.5,10 H446.5 L450,13.2 V22.4 H438.5 Z" fill="#fafafa" stroke="#9a9a9a" stroke-width="0.9"/><path d="M446.5,10 V13.2 H450" fill="#e4e4e4" stroke="#9a9a9a" stroke-width="0.7"/><path d="M442.2,12.5 C440.6,12.5 441.6,16 440.4,16.2 C441.6,16.4 440.6,20 442.2,20" fill="none" stroke="#777" stroke-width="0.8"/><path d="M446.5,15.2 H449.7 V19.3 H453.8 V22.5 H449.7 V26.6 H446.5 V22.5 H442.4 V19.3 H446.5 Z" fill="#25c425" stroke="#0c8a0c" stroke-width="0.9"/></g>
<polygon points="459.6,16 465.6,16 462.6,19.3" fill="#000"/>
<g><circle cx="484" cy="17" r="6.9" fill="#f4f8ff" stroke="#1f69cc" stroke-width="2.1"/><circle cx="484" cy="17" r="7.9" fill="none" stroke="#0f4aa6" stroke-width="0.5"/><path d="M484,13.2 V17.2 H486.8" fill="none" stroke="#333" stroke-width="1"/><g fill="#6a8fc8"><rect x="483.6" y="11" width="0.9" height="1.2"/><rect x="483.6" y="21.8" width="0.9" height="1.2"/><rect x="478" y="16.6" width="1.2" height="0.9"/><rect x="488.8" y="16.6" width="1.2" height="0.9"/></g></g>
<polygon points="498.8,16 504.8,16 501.8,19.3" fill="#000"/>
<g class="c"><rect x="515" y="10" width="16" height="14" fill="#3b78c8"/><rect x="516" y="12" width="14" height="11" fill="#fff"/><rect x="516" y="10.6" width="14" height="1" fill="#7fb0ee"/><rect x="516" y="17" width="14" height="1" fill="#3b78c8"/></g><polyline points="517.3,15.2 519.5,15.2 521.5,13.8 523.5,14.8 525.5,13.6 528.8,13.6" fill="none" stroke="#a82010" stroke-width="1.1"/><polyline points="517.3,21.4 519.5,21.4 521.5,20 523.5,21 525.8,19.4 528.8,21.2" fill="none" stroke="#16921c" stroke-width="1.1"/>
<polygon points="537.4,16 543.4,16 540.4,19.3" fill="#000"/>
<g class="c">
<rect x="549" y="5" width="1" height="23" fill="#a0a0a0" />
<rect x="550" y="5" width="1" height="23" fill="#fff" />
</g>
<g class="c">
<rect x="553" y="7" width="3" height="1" fill="#a6a6a6" />
<rect x="553" y="9" width="3" height="1" fill="#a6a6a6" />
<rect x="553" y="11" width="3" height="1" fill="#a6a6a6" />
<rect x="553" y="13" width="3" height="1" fill="#a6a6a6" />
<rect x="553" y="15" width="3" height="1" fill="#a6a6a6" />
<rect x="553" y="17" width="3" height="1" fill="#a6a6a6" />
<rect x="553" y="19" width="3" height="1" fill="#a6a6a6" />
<rect x="553" y="21" width="3" height="1" fill="#a6a6a6" />
<rect x="553" y="23" width="3" height="1" fill="#a6a6a6" />
<rect x="553" y="25" width="3" height="1" fill="#a6a6a6" />
</g>
<g class="c">
<rect x="559" y="5" width="26" height="22" fill="url(#chk)" />
<rect x="559" y="5" width="26" height="1" fill="#a0a0a0" />
<rect x="559" y="5" width="1" height="22" fill="#a0a0a0" />
<rect x="584" y="5" width="1" height="22" fill="#fff" />
<rect x="559" y="26" width="26" height="1" fill="#fff" />
</g>
<polygon points="567.2,9.8 567.2,21.2 569.9,18.6 572.3,24 574,23.2 571.7,18 575,17.6" fill="#505050"/>
<g class="c" fill="#505050"><rect x="599" y="10" width="1" height="6"/><rect x="599" y="19" width="1" height="6"/><rect x="592" y="17" width="6" height="1"/><rect x="601" y="17" width="6" height="1"/></g>
<g class="c">
<rect x="616" y="5" width="1" height="23" fill="#a0a0a0" />
<rect x="617" y="5" width="1" height="23" fill="#fff" />
</g>
<g class="c" fill="#505050"><rect x="633" y="11" width="1" height="13"/><rect x="656" y="17" width="12" height="1"/></g>
<line x1="684" y1="24.2" x2="696.4" y2="11.8" stroke="#505050" stroke-width="1.1"/>
<g stroke="#505050" stroke-width="0.9" fill="none"><path d="M709.8,19.5 L723.2,11.8 M711.2,23.4 L723.6,15.6 M713,16.5 L712.2,23.6 M715.6,14.6 L714.8,22 M718.2,13 L717.4,20.2 M720.8,9.6 L720,18.4 M722.8,9.2 L722.4,16.6"/></g>
<text x="720.5" y="25.6" font-size="7" fill="#404040" font-weight="bold" textLength="4.4" lengthAdjust="spacingAndGlyphs" >E</text>
<g stroke="#505050" stroke-width="1" stroke-dasharray="1 1" class="c"><path d="M739,10.5 H752.4 M739,13.5 H752.4 M739,17.5 H752.4 M739,21.5 H748"/></g>
<text x="748.9" y="25.6" font-size="7" fill="#404040" font-weight="bold" textLength="4" lengthAdjust="spacingAndGlyphs" >F</text>
<text x="769.4" y="21.7" font-size="12" fill="#505050" textLength="8.4" lengthAdjust="spacingAndGlyphs" stroke="#505050" stroke-width="0.3">A</text>
<rect x="796.5" y="11.5" width="11" height="12" fill="none" stroke="#505050" stroke-width="1" stroke-dasharray="1 1" class="c"/>
<g class="c" fill="#505050"><rect x="795" y="10" width="2" height="2"/></g>
<text x="797.6" y="21.7" font-size="11.6" fill="#505050" font-weight="bold" textLength="8.2" lengthAdjust="spacingAndGlyphs" >T</text>
<g fill="#404040"><polygon points="826.5,10.2 830.4,13.2 826.5,15.6 822.6,13.2"/><polygon points="833.7,18.4 837.6,21.2 833.7,24 829.8,21.2"/><path d="M825,16.2 L826.8,18.4 L831.6,13.2" fill="none" stroke="#404040" stroke-width="1.2"/></g>
<polygon points="843.4,16 849.4,16 846.4,19.3" fill="#000"/>
<g class="c">
<rect x="855" y="5" width="1" height="23" fill="#a0a0a0" />
<rect x="856" y="5" width="1" height="23" fill="#fff" />
</g>
<g class="c">
<rect x="859" y="7" width="3" height="1" fill="#a6a6a6" />
<rect x="859" y="9" width="3" height="1" fill="#a6a6a6" />
<rect x="859" y="11" width="3" height="1" fill="#a6a6a6" />
<rect x="859" y="13" width="3" height="1" fill="#a6a6a6" />
<rect x="859" y="15" width="3" height="1" fill="#a6a6a6" />
<rect x="859" y="17" width="3" height="1" fill="#a6a6a6" />
<rect x="859" y="19" width="3" height="1" fill="#a6a6a6" />
<rect x="859" y="21" width="3" height="1" fill="#a6a6a6" />
<rect x="859" y="23" width="3" height="1" fill="#a6a6a6" />
<rect x="859" y="25" width="3" height="1" fill="#a6a6a6" />
</g>
<g class="c">
<rect x="1005" y="5" width="26" height="22" fill="url(#chk)" />
<rect x="1005" y="5" width="26" height="1" fill="#a0a0a0" />
<rect x="1005" y="5" width="1" height="22" fill="#a0a0a0" />
<rect x="1030" y="5" width="1" height="22" fill="#fff" />
<rect x="1005" y="26" width="26" height="1" fill="#fff" />
</g>
<text x="870.1" y="20.7" font-size="9.8" fill="#3c3c3c" textLength="13.2" lengthAdjust="spacingAndGlyphs" >M1</text>
<text x="898.6" y="20.7" font-size="9.8" fill="#3c3c3c" textLength="12.8" lengthAdjust="spacingAndGlyphs" >M5</text>
<text x="924.4" y="20.7" font-size="9.8" fill="#3c3c3c" textLength="18" lengthAdjust="spacingAndGlyphs" >M15</text>
<text x="952.9000000000001" y="20.7" font-size="9.8" fill="#3c3c3c" textLength="17.6" lengthAdjust="spacingAndGlyphs" >M30</text>
<text x="983.4" y="20.7" font-size="9.8" fill="#3c3c3c" textLength="12.2" lengthAdjust="spacingAndGlyphs" >H1</text>
<text x="1011.0" y="20.7" font-size="9.8" fill="#3c3c3c" textLength="12.4" lengthAdjust="spacingAndGlyphs" >H4</text>
<text x="1039.5" y="20.7" font-size="9.8" fill="#3c3c3c" textLength="12" lengthAdjust="spacingAndGlyphs" >D1</text>
<text x="1067.2" y="20.7" font-size="9.8" fill="#3c3c3c" textLength="14.2" lengthAdjust="spacingAndGlyphs" >W1</text>
<text x="1093.9" y="20.7" font-size="9.8" fill="#3c3c3c" textLength="14.6" lengthAdjust="spacingAndGlyphs" >MN</text>
<g class="c">
<rect x="1116" y="5" width="1" height="23" fill="#a0a0a0" />
<rect x="1117" y="5" width="1" height="23" fill="#fff" />
</g>
<g><line x1="1583.3" y1="18" x2="1579.2" y2="21.8" stroke="#1f55cc" stroke-width="2.7" stroke-linecap="round"/><circle cx="1586.5" cy="14.3" r="4" fill="#fbfcff" stroke="#2760d8" stroke-width="1.3"/></g>
<g stroke="#8e8e8e" stroke-width="0.9" fill="url(#bub)"><path d="M1621,18.2 L1622.6,20.6 L1623.4,17.6 Z" fill="#777"/><ellipse cx="1619.3" cy="13.9" rx="6.6" ry="4.6"/><path d="M1606.6,21 L1607.4,23.6 L1609.6,21.6 Z" fill="#777"/><ellipse cx="1610.3" cy="18.1" rx="5.1" ry="3.9"/></g>
</svg>
</body></html>
